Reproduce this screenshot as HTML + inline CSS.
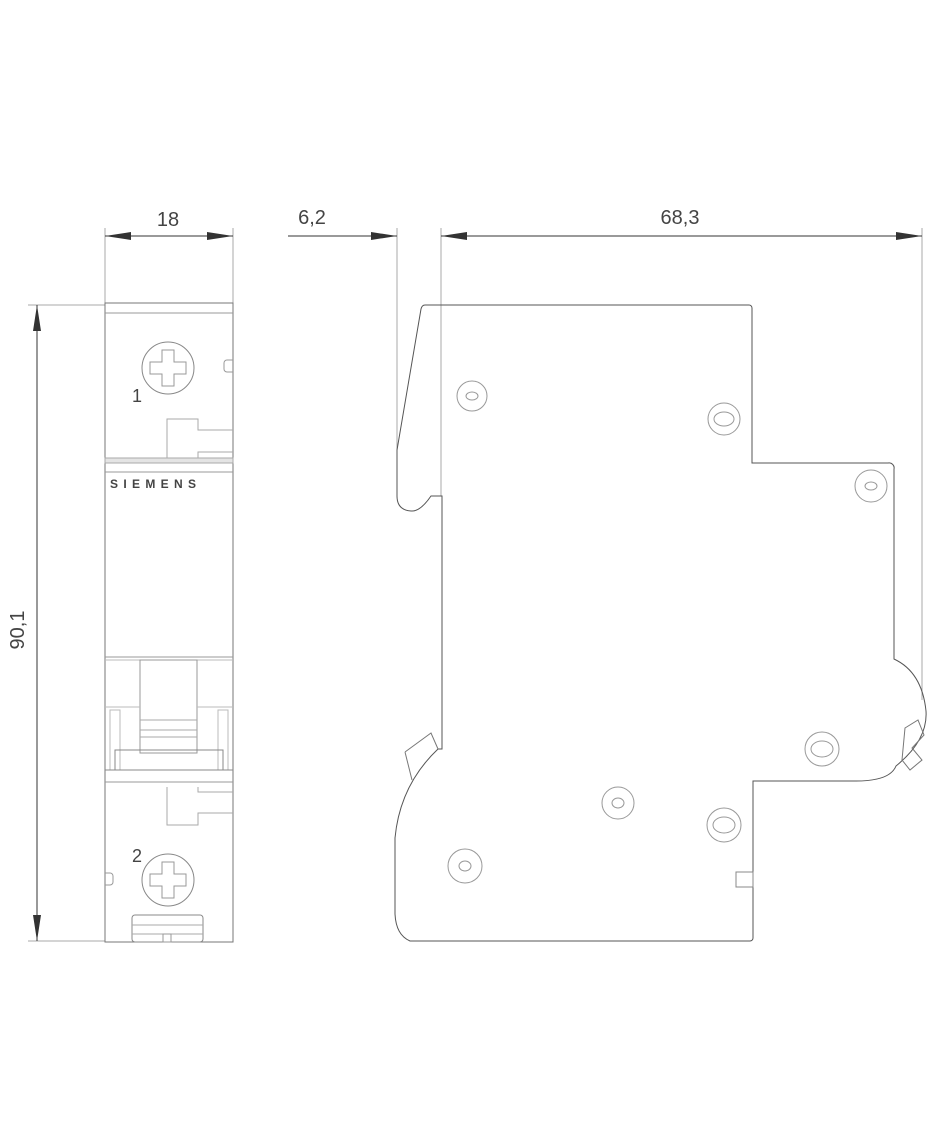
<!DOCTYPE html>
<html><head><meta charset="utf-8"><style>
html,body{margin:0;padding:0;background:#fff}
svg{display:block}
text{font-family:"Liberation Sans",sans-serif;fill:#444}
</style></head><body>
<svg width="927" height="1140" viewBox="0 0 927 1140" xmlns="http://www.w3.org/2000/svg">
<defs>
<marker id="ar" viewBox="0 0 10 10" refX="10" refY="5" markerWidth="26" markerHeight="8" markerUnits="userSpaceOnUse" orient="auto-start-reverse" preserveAspectRatio="none"><path d="M0,0 L10,5 L0,10 z" fill="#333"/></marker>
</defs>
<g stroke="#555" stroke-width="1" fill="none">
<!-- dimension extension lines -->
<line x1="105" y1="228" x2="105" y2="303" stroke="#aaa"/>
<line x1="233" y1="228" x2="233" y2="303" stroke="#aaa"/>
<line x1="397" y1="228" x2="397" y2="450" stroke="#aaa"/>
<line x1="441" y1="228" x2="441" y2="496" stroke="#aaa"/>
<line x1="922" y1="228" x2="922" y2="700" stroke="#aaa"/>
<line x1="28" y1="305" x2="105" y2="305" stroke="#aaa"/>
<line x1="28" y1="941" x2="105" y2="941" stroke="#aaa"/>
<!-- dims -->
<line x1="105" y1="236" x2="233" y2="236" stroke="#333" marker-start="url(#ar)" marker-end="url(#ar)"/>
<line x1="288" y1="236" x2="397" y2="236" stroke="#333" marker-end="url(#ar)"/>
<line x1="441" y1="236" x2="922" y2="236" stroke="#333" marker-start="url(#ar)" marker-end="url(#ar)"/>
<line x1="37" y1="305" x2="37" y2="941" stroke="#333" marker-start="url(#ar)" marker-end="url(#ar)"/>

<!-- front view -->
<rect x="105" y="303" width="128" height="639" stroke="#777"/>
<line x1="105" y1="313" x2="233" y2="313" stroke="#999"/>
<circle cx="168" cy="368" r="26" stroke="#888"/>
<path d="M162,350 h12 v12 h12 v12 h-12 v12 h-12 v-12 h-12 v-12 h12 z" stroke="#999"/>
<path d="M233,360 h-6 a3,3 0 0 0 -3,3 v6 a3,3 0 0 0 3,3 h6" stroke="#999"/>
<path d="M167,460 V419 H198 V430 H233 M198,460 V452 H233" stroke="#aaa"/>
<rect x="105" y="458" width="128" height="5" fill="#e4e4e4" stroke="#aaa"/>
<line x1="105" y1="472" x2="233" y2="472" stroke="#999"/>
<line x1="105" y1="657" x2="233" y2="657" stroke="#999"/>
<line x1="105" y1="660" x2="233" y2="660" stroke="#bbb"/>
<rect x="140" y="660" width="57" height="93" stroke="#999"/>
<line x1="140" y1="720" x2="197" y2="720" stroke="#aaa"/>
<line x1="140" y1="730" x2="197" y2="730" stroke="#aaa"/>
<line x1="140" y1="737" x2="197" y2="737" stroke="#aaa"/>
<path d="M105,707 H140 M197,707 H233" stroke="#bbb"/>
<rect x="110" y="710" width="10" height="60" stroke="#bbb"/>
<rect x="218" y="710" width="10" height="60" stroke="#bbb"/>
<rect x="115" y="750" width="108" height="20" stroke="#888"/>
<line x1="105" y1="770" x2="233" y2="770" stroke="#888"/>
<line x1="105" y1="782" x2="233" y2="782" stroke="#999"/>
<path d="M167,787 V825 H198 V813 H233 M198,787 V792 H233" stroke="#aaa"/>
<path d="M105,873 h5 a3,3 0 0 1 3,3 v6 a3,3 0 0 1 -3,3 h-5" stroke="#999"/>
<circle cx="168" cy="880" r="26" stroke="#888"/>
<path d="M162,862 h12 v12 h12 v12 h-12 v12 h-12 v-12 h-12 v-12 h12 z" stroke="#999"/>
<rect x="132" y="915" width="71" height="27" rx="3" stroke="#888"/>
<line x1="132" y1="925" x2="203" y2="925" stroke="#aaa"/>
<line x1="132" y1="934" x2="203" y2="934" stroke="#aaa"/>
<rect x="163" y="934" width="8" height="8" stroke="#999"/>

<!-- side view -->
<path d="M425,305 H749 a3,3 0 0 1 3,3 V463 H888 a5,5 0 0 1 6,6 V659 Q922,672 926,711 Q928,740 896,766 Q890,781 856,781 H753 V938 a3,3 0 0 1 -3,3 H410 Q396,935 395,914 V838 Q400,785 438,749 H442 V496 H431 Q420,512 411,511 Q397,510 397,496 V450 L421,309 Q422,305 425,305 Z" stroke="#555"/>
<path d="M405,752 L431,733 L438,749 M405,752 L412,780" stroke="#777"/>
<path d="M905,728 L918,720 L924,735 L912,748 L922,760 L910,770 L902,760 Z" stroke="#777"/>
<rect x="736" y="872" width="17" height="15" stroke="#888"/>
<g stroke="#999">
<circle cx="472" cy="396" r="15"/><ellipse cx="472" cy="396" rx="6" ry="4"/>
<circle cx="724" cy="419" r="16"/><ellipse cx="724" cy="419" rx="10" ry="7"/>
<circle cx="871" cy="486" r="16"/><ellipse cx="871" cy="486" rx="6" ry="4"/>
<circle cx="822" cy="749" r="17"/><ellipse cx="822" cy="749" rx="11" ry="8"/>
<circle cx="618" cy="803" r="16"/><ellipse cx="618" cy="803" rx="6" ry="5"/>
<circle cx="724" cy="825" r="17"/><ellipse cx="724" cy="825" rx="11" ry="8"/>
<circle cx="465" cy="866" r="17"/><ellipse cx="465" cy="866" rx="6" ry="5"/>
</g>
</g>
<text x="168" y="226" font-size="20" text-anchor="middle">18</text>
<text x="312" y="224" font-size="20" text-anchor="middle">6,2</text>
<text x="680" y="224" font-size="20" text-anchor="middle">68,3</text>
<text transform="translate(24,630) rotate(-90)" font-size="20" text-anchor="middle">90,1</text>
<text x="137" y="402" font-size="18" fill="#666" text-anchor="middle">1</text>
<text x="137" y="862" font-size="18" fill="#666" text-anchor="middle">2</text>
<text x="153" y="488" font-size="12" text-anchor="middle" fill="#999" textLength="86" font-weight="bold">SIEMENS</text>
</svg>
</body></html>
